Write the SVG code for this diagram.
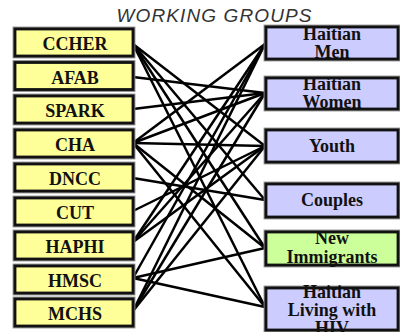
<svg xmlns="http://www.w3.org/2000/svg" width="400" height="332" viewBox="0 0 400 332">
<style>
.t{font-family:"Liberation Sans",Arial,sans-serif;font-style:italic;font-size:19px;fill:#333}
.lb{font-family:"Liberation Serif","Times New Roman",serif;font-weight:bold;font-size:18px;fill:#111;text-anchor:middle}
.halo{fill:none;stroke:#8a8a8a;stroke-width:4.8}
.brd{fill:none;stroke:#111;stroke-width:2.8}
.org{fill:#FFFF99}
.grp{fill:#CCCCFF}
.imm{fill:#CCFF99}
#connectors line{stroke:#000;stroke-width:2.5}
</style>
<rect width="400" height="332" fill="#fff"/>
<text class="t" x="214" y="22" text-anchor="middle" textLength="195">WORKING GROUPS</text>
<g id="connectors">
<line x1="133" y1="44" x2="265" y2="146"/>
<line x1="133" y1="44" x2="265" y2="200"/>
<line x1="133" y1="44" x2="265" y2="248"/>
<line x1="133" y1="44" x2="265" y2="307"/>
<line x1="133" y1="77" x2="265" y2="93"/>
<line x1="133" y1="109" x2="265" y2="93"/>
<line x1="133" y1="143" x2="265" y2="44"/>
<line x1="133" y1="143" x2="265" y2="93"/>
<line x1="133" y1="143" x2="265" y2="146"/>
<line x1="133" y1="143" x2="265" y2="248"/>
<line x1="133" y1="143" x2="265" y2="307"/>
<line x1="133" y1="178" x2="265" y2="200"/>
<line x1="133" y1="211" x2="265" y2="146"/>
<line x1="133" y1="242" x2="265" y2="44"/>
<line x1="133" y1="242" x2="265" y2="93"/>
<line x1="133" y1="242" x2="265" y2="146"/>
<line x1="133" y1="278" x2="265" y2="44"/>
<line x1="133" y1="278" x2="265" y2="248"/>
<line x1="133" y1="278" x2="265" y2="307"/>
<line x1="133" y1="311" x2="265" y2="44"/>
<line x1="133" y1="311" x2="265" y2="93"/>
<line x1="133" y1="311" x2="265" y2="146"/>
</g>
<g id="ccher"><rect class="halo" x="15" y="29" width="118" height="27"/><rect class="org" x="15" y="29" width="118" height="27"/><text class="lb" x="75" y="50">CCHER</text><rect class="brd" x="15" y="29" width="118" height="27"/></g>
<g id="afab"><rect class="halo" x="15" y="62.5" width="118" height="27"/><rect class="org" x="15" y="62.5" width="118" height="27"/><text class="lb" x="75" y="83.5">AFAB</text><rect class="brd" x="15" y="62.5" width="118" height="27"/></g>
<g id="spark"><rect class="halo" x="15" y="96" width="118" height="27"/><rect class="org" x="15" y="96" width="118" height="27"/><text class="lb" x="75" y="117">SPARK</text><rect class="brd" x="15" y="96" width="118" height="27"/></g>
<g id="cha"><rect class="halo" x="15" y="130" width="118" height="27"/><rect class="org" x="15" y="130" width="118" height="27"/><text class="lb" x="75" y="151">CHA</text><rect class="brd" x="15" y="130" width="118" height="27"/></g>
<g id="dncc"><rect class="halo" x="15" y="164" width="118" height="27"/><rect class="org" x="15" y="164" width="118" height="27"/><text class="lb" x="75" y="185">DNCC</text><rect class="brd" x="15" y="164" width="118" height="27"/></g>
<g id="cut"><rect class="halo" x="15" y="198" width="118" height="27"/><rect class="org" x="15" y="198" width="118" height="27"/><text class="lb" x="75" y="219">CUT</text><rect class="brd" x="15" y="198" width="118" height="27"/></g>
<g id="haphi"><rect class="halo" x="15" y="232" width="118" height="27"/><rect class="org" x="15" y="232" width="118" height="27"/><text class="lb" x="75" y="253">HAPHI</text><rect class="brd" x="15" y="232" width="118" height="27"/></g>
<g id="hmsc"><rect class="halo" x="15" y="266" width="118" height="27"/><rect class="org" x="15" y="266" width="118" height="27"/><text class="lb" x="75" y="287">HMSC</text><rect class="brd" x="15" y="266" width="118" height="27"/></g>
<g id="mchs"><rect class="halo" x="15" y="299" width="118" height="27"/><rect class="org" x="15" y="299" width="118" height="27"/><text class="lb" x="75" y="320">MCHS</text><rect class="brd" x="15" y="299" width="118" height="27"/></g>
<g id="men"><rect class="halo" x="266" y="27" width="132" height="32"/><rect class="grp" x="266" y="27" width="132" height="32"/><text class="lb" x="332" y="39.5">Haitian</text><text class="lb" x="332" y="57.5">Men</text><rect class="brd" x="266" y="27" width="132" height="32"/></g>
<g id="women"><rect class="halo" x="266" y="78" width="132" height="31"/><rect class="grp" x="266" y="78" width="132" height="31"/><text class="lb" x="332" y="90">Haitian</text><text class="lb" x="332" y="108">Women</text><rect class="brd" x="266" y="78" width="132" height="31"/></g>
<g id="youth"><rect class="halo" x="266" y="130" width="132" height="32"/><rect class="grp" x="266" y="130" width="132" height="32"/><text class="lb" x="332" y="152">Youth</text><rect class="brd" x="266" y="130" width="132" height="32"/></g>
<g id="couples"><rect class="halo" x="266" y="184" width="132" height="33"/><rect class="grp" x="266" y="184" width="132" height="33"/><text class="lb" x="332" y="206">Couples</text><rect class="brd" x="266" y="184" width="132" height="33"/></g>
<g id="newimm"><rect class="halo" x="266" y="232" width="132" height="33"/><rect class="imm" x="266" y="232" width="132" height="33"/><text class="lb" x="332" y="244">New</text><text class="lb" x="332" y="262.5">Immigrants</text><rect class="brd" x="266" y="232" width="132" height="33"/></g>
<g id="hiv"><rect class="halo" x="266" y="288" width="132" height="42"/><rect class="grp" x="266" y="288" width="132" height="42"/><text class="lb" x="332" y="298">Haitian</text><text class="lb" x="332" y="316">Living with</text><text class="lb" x="332" y="334">HIV</text><rect class="brd" x="266" y="288" width="132" height="42"/></g>
</svg>
